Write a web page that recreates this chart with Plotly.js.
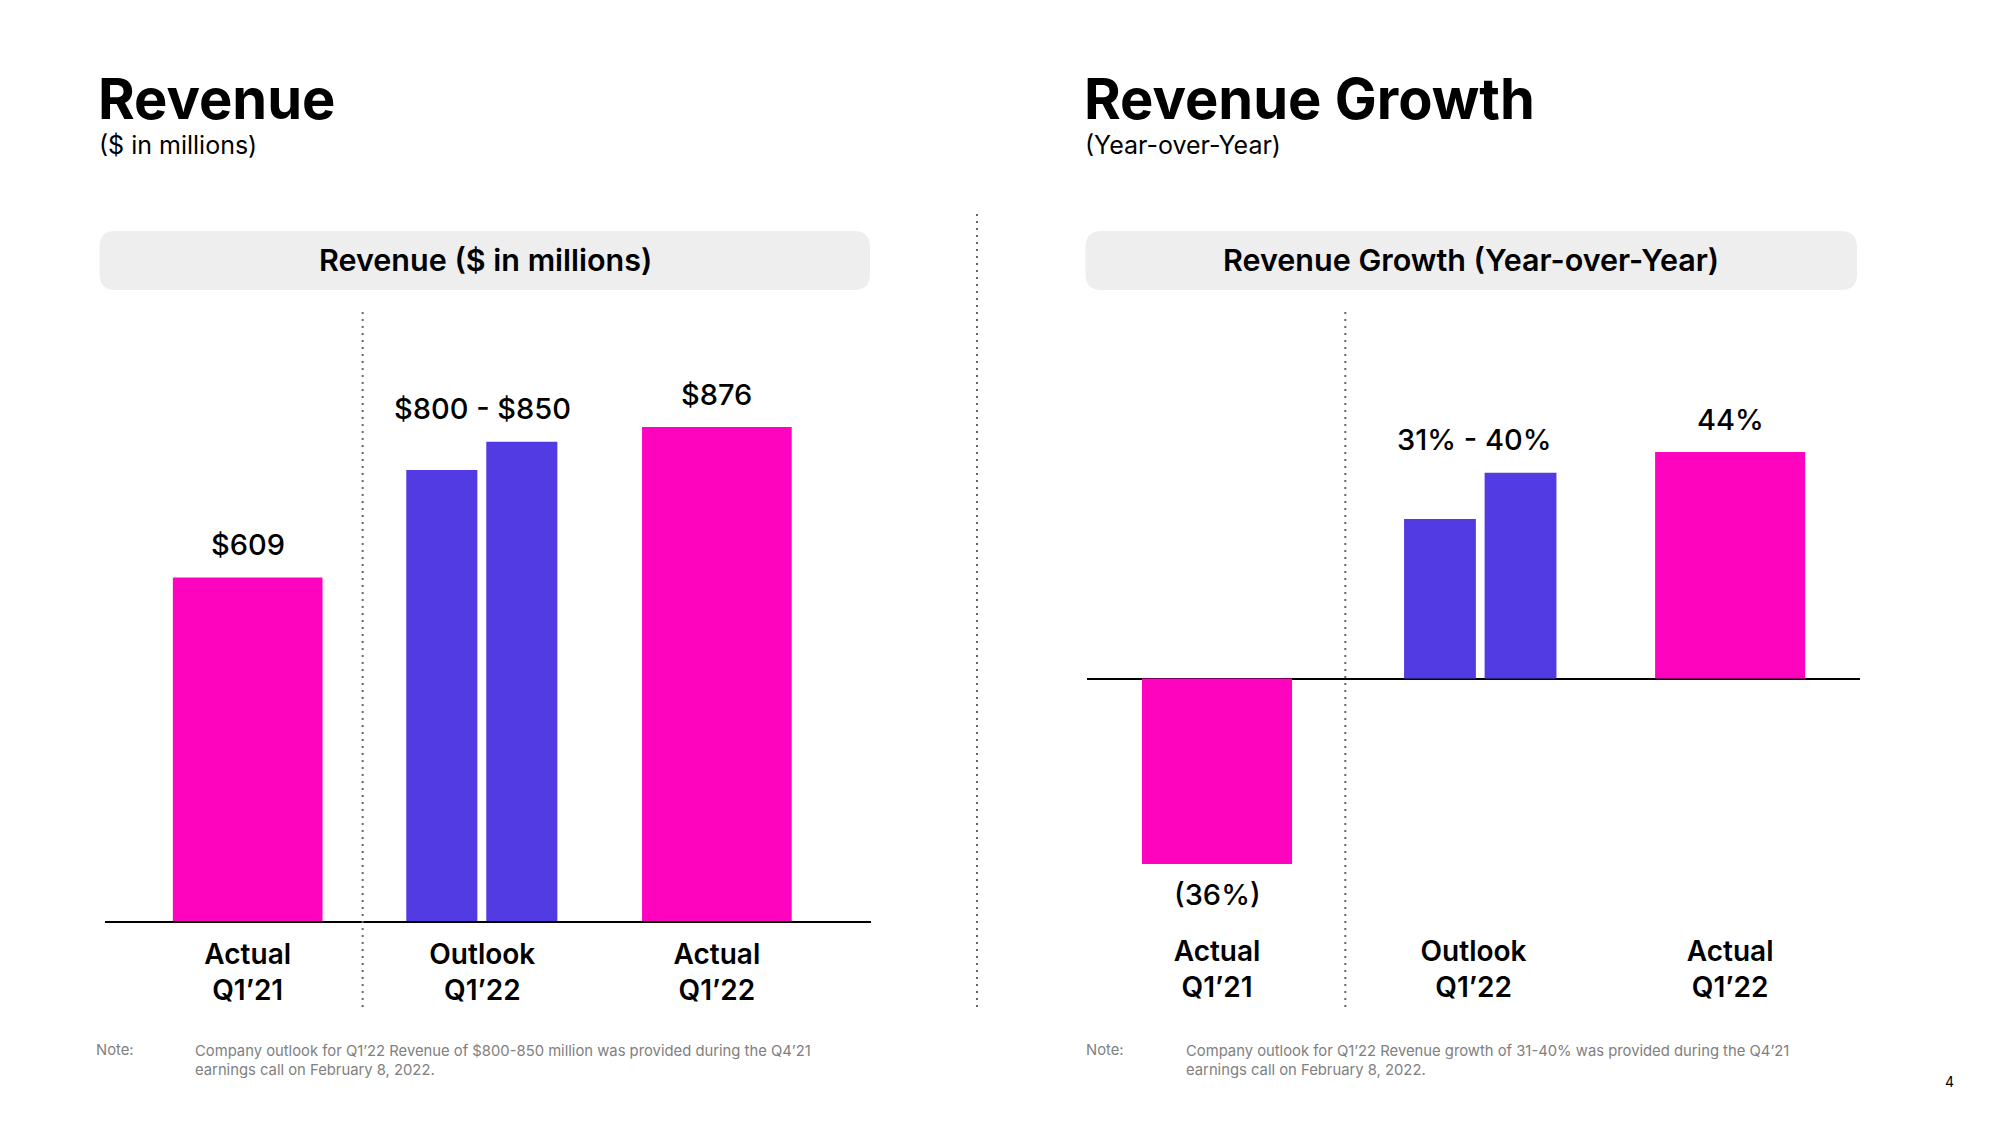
<!DOCTYPE html>
<html>
<head>
<meta charset="utf-8">
<script src="https://cdn.plot.ly/plotly-3.0.1.min.js"></script>
<style>
  html, body { margin: 0; padding: 0; background: #ffffff; }
  #chart { width: 2000px; height: 1125px; }
</style>
</head>
<body>
<div id="chart"></div>
<script>
// ---------------- DATA ----------------
const categories = ['Actual Q1’21', 'Outlook Q1’22', 'Actual Q1’22'];
const categoryTickText = ['Actual<br>Q1’21', 'Outlook<br>Q1’22', 'Actual<br>Q1’22'];

// Revenue ($ in millions)
const revenueActual = [609, null, 876];
const revenueOutlookLow = [null, 800, null];
const revenueOutlookHigh = [null, 850, null];
const revenueLabels = ['$609', '$800 - $850', '$876'];

// Revenue growth (year-over-year, %)
const growthActual = [-36, null, 44];
const growthOutlookLow = [null, 31, null];
const growthOutlookHigh = [null, 40, null];
const growthLabels = ['(36%)', '31% - 40%', '44%'];

const titles = {
  left: 'Revenue', leftSub: '($ in millions)', leftBox: 'Revenue ($ in millions)',
  right: 'Revenue Growth', rightSub: '(Year-over-Year)', rightBox: 'Revenue Growth (Year-over-Year)'
};
const noteLeft = 'Company outlook for Q1’22 Revenue of $800-850 million was provided during the Q4’21<br>earnings call on February 8, 2022.';
const noteRight = 'Company outlook for Q1’22 Revenue growth of 31-40% was provided during the Q4’21<br>earnings call on February 8, 2022.';
const pageNumber = '4';

// ---------------- STYLE ----------------
const W = 2000, H = 1125;
const PINK = '#FF04BF';
const BLUE = '#533BE3';
const FONT = 'Inter, "Noto Sans", sans-serif';
const X = v => v / W;
const Y = v => 1 - v / H;

function roundedRect(x0, y0, x1, y1, r) {
  return `M${X(x0 + r)},${Y(y0)} L${X(x1 - r)},${Y(y0)} Q${X(x1)},${Y(y0)} ${X(x1)},${Y(y0 + r)} ` +
         `L${X(x1)},${Y(y1 - r)} Q${X(x1)},${Y(y1)} ${X(x1 - r)},${Y(y1)} ` +
         `L${X(x0 + r)},${Y(y1)} Q${X(x0)},${Y(y1)} ${X(x0)},${Y(y1 - r)} ` +
         `L${X(x0)},${Y(y0 + r)} Q${X(x0)},${Y(y0)} ${X(x0 + r)},${Y(y0)} Z`;
}

function barTrace(y, color, xa, ya, width, offset) {
  const t = {
    type: 'bar', x: categories, y: y, xaxis: xa, yaxis: ya,
    marker: { color: color, line: { width: 0 } },
    width: width, showlegend: false, hoverinfo: 'skip'
  };
  if (offset !== undefined) t.offset = offset;
  return t;
}

const data = [
  barTrace(revenueActual, PINK, 'x', 'y', 0.638),
  barTrace(revenueOutlookLow, BLUE, 'x', 'y', 0.303, -0.324),
  barTrace(revenueOutlookHigh, BLUE, 'x', 'y', 0.303, 0.017),
  barTrace(growthActual, PINK, 'x2', 'y2', 0.585),
  barTrace(growthOutlookLow, BLUE, 'x2', 'y2', 0.28, -0.271),
  barTrace(growthOutlookHigh, BLUE, 'x2', 'y2', 0.28, 0.043)
];

const annotations = [];
function txt(text, x, y, size, opts) {
  annotations.push(Object.assign({
    text: text, xref: 'paper', yref: 'paper', x: X(x), y: Y(y),
    xanchor: 'left', yanchor: 'middle', showarrow: false,
    font: { family: FONT, size: size, color: '#000000' }
  }, opts || {}));
}

// Panel titles
txt(titles.left, 96, 99, 56, { font: { family: FONT, size: 56, color: '#000', weight: 700 } });
txt(titles.leftSub, 97, 144.5, 25);
txt(titles.right, 1082, 99, 56, { font: { family: FONT, size: 56, color: '#000', weight: 700 } });
txt(titles.rightSub, 1083, 144.5, 25);
// box titles
const boxFont = { family: FONT, size: 30.5, color: '#000', weight: 600 };
txt(titles.leftBox, 485, 260, 30.5, { xanchor: 'center', font: boxFont });
txt(titles.rightBox, 1471, 260, 30.5, { xanchor: 'center', font: boxFont });
// notes
const noteFont = { family: FONT, size: 14.8, color: '#808080' };
txt('Note:', 94, 1050, 14.8, { font: noteFont, align: 'left' });
txt(noteLeft, 193, 1060, 14.8, { font: noteFont, align: 'left' });
txt('Note:', 1084, 1050, 14.8, { font: noteFont, align: 'left' });
txt(noteRight, 1184, 1060, 14.8, { font: noteFont, align: 'left' });
txt(pageNumber, 1949, 1081, 14, { xanchor: 'center', font: { family: FONT, size: 14, color: '#000' } });

// value labels (anchored to data)
function valueLabels(labels, series, xa, ya) {
  categories.forEach((c, i) => {
    const vals = series.map(s => s[i]).filter(v => v !== null);
    const top = Math.max(...vals), bottom = Math.min(...vals);
    const neg = bottom < 0;
    annotations.push({
      text: labels[i], xref: xa, yref: ya, x: c, y: neg ? bottom : top,
      xanchor: 'center', yanchor: 'middle', yshift: neg ? -31 : 33, showarrow: false,
      font: { family: FONT, size: 29, color: '#000', weight: 500 }
    });
  });
}
valueLabels(revenueLabels, [revenueActual, revenueOutlookLow, revenueOutlookHigh], 'x', 'y');
valueLabels(growthLabels, [growthActual, growthOutlookLow, growthOutlookHigh], 'x2', 'y2');

const dotted = { color: '#666666', width: 2, dash: '2px,5px' };
const shapes = [
  { type: 'path', xref: 'paper', yref: 'paper', path: roundedRect(99.5, 231, 870, 290, 16),
    fillcolor: '#EEEEEE', line: { width: 0 }, layer: 'below' },
  { type: 'path', xref: 'paper', yref: 'paper', path: roundedRect(1085.5, 231, 1857, 290, 16),
    fillcolor: '#EEEEEE', line: { width: 0 }, layer: 'below' },
  { type: 'line', xref: 'paper', yref: 'paper', x0: X(977), x1: X(977), y0: Y(214), y1: Y(1008), line: dotted },
  { type: 'line', xref: 'x', yref: 'paper', x0: 0.49, x1: 0.49, y0: Y(312), y1: Y(1008), line: dotted },
  { type: 'line', xref: 'x2', yref: 'paper', x0: 0.5, x1: 0.5, y0: Y(312), y1: Y(1008), line: dotted }
];

const tickFont = { family: FONT, size: 28, color: '#000', weight: 600 };
const catAxis = {
  type: 'category', showgrid: false, ticks: '', zeroline: false, fixedrange: true,
  tickmode: 'array', tickvals: categories, ticktext: categoryTickText,
  tickfont: tickFont
};
const hiddenY = { showgrid: false, showticklabels: false, ticks: '', showline: false, fixedrange: true };
const layout = {
  width: W, height: H,
  margin: { l: 0, r: 0, t: 0, b: 0 },
  paper_bgcolor: '#ffffff', plot_bgcolor: 'rgba(0,0,0,0)',
  barmode: 'overlay', showlegend: false, hovermode: false,
  font: { family: FONT },
  xaxis: Object.assign({ domain: [X(104.6), X(871)], range: [-0.61, 2.657],
           showline: true, linecolor: '#000000', linewidth: 2, anchor: 'y', ticklabelstandoff: 7 }, catAxis),
  yaxis: Object.assign({ domain: [Y(921), Y(312)], range: [0, 1080], zeroline: false, anchor: 'x' }, hiddenY),
  xaxis2: Object.assign({ domain: [X(1086.7), X(1859.7)], range: [-0.508, 2.505],
            showline: false, anchor: 'y2', ticklabelstandoff: 11 }, catAxis),
  yaxis2: Object.assign({ domain: [Y(921), Y(312)], range: [-47.08, 71.2], zeroline: true,
            zerolinecolor: '#000000', zerolinewidth: 2, anchor: 'x2' }, hiddenY),
  annotations: annotations,
  shapes: shapes
};

Plotly.newPlot('chart', data, layout, { displayModeBar: false, staticPlot: true });
</script>
</body>
</html>
